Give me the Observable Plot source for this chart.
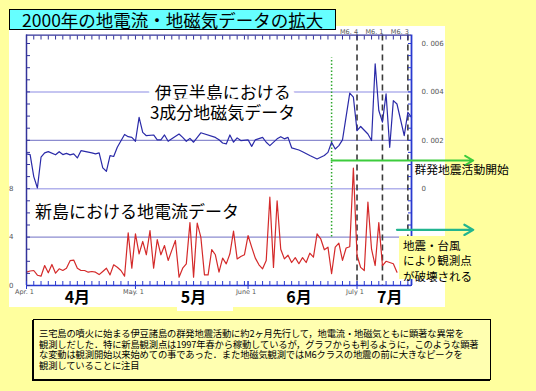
<!DOCTYPE html>
<html><head><meta charset="utf-8">
<script src="https://cdn.jsdelivr.net/npm/d3@7"></script>
<script src="https://cdn.jsdelivr.net/npm/@observablehq/plot@0.6"></script>
<style>
body{margin:0;width:536px;height:391px;background:#ffff9e;position:relative;overflow:hidden;font-family:"Noto Sans CJK JP",sans-serif;}
#panel{position:absolute;left:9px;top:26px;width:436px;height:281px;background:#fff;}
#m5bg{position:absolute;left:177px;top:293px;width:56px;height:18px;background:#fff;}
#chart{position:absolute;left:0;top:0;}
#chart svg{overflow:visible;}
#title{position:absolute;left:9px;top:9px;width:313px;height:19px;background:#66ffff;border:1px solid #000;font-size:17.5px;line-height:19px;padding-left:12px;color:#000;white-space:nowrap;}
#caption{position:absolute;left:33px;top:319px;background:#ffffb0;border:1px solid #000;box-shadow:-1px 1px 0 #000;padding:8px 0 0 5px;box-sizing:border-box;width:458px;height:61px;font-size:9.3px;line-height:10.5px;letter-spacing:-0.15px;color:#000;white-space:nowrap;}
#callout{position:absolute;background:#ffff9e;font-size:11.5px;line-height:15.5px;color:#000;white-space:nowrap;padding:2px 0 0 4px;box-sizing:border-box;}
</style></head>
<body>
<div id="panel"></div>
<div id="m5bg"></div>
<div id="chart"></div>
<div id="title">2000年の地電流・地磁気データの拡大</div>
<div id="callout">地震・台風<br>により観測点<br>が破壊される</div>
<div id="caption">三宅島の噴火に始まる伊豆諸島の群発地震活動に約2ヶ月先行して，地電流・地磁気ともに顕著な異常を<br>観測しだした．特に新島観測点は1997年春から稼動しているが，グラフからも判るように，このような顕著<br>な変動は観測開始以来始めての事であった．また地磁気観測ではM6クラスの地震の前に大きなピークを<br>観測していることに注目</div>
<script>
// ---- data ----
const startDay = "2000-04-01";
// 新島 地電流 (daily, from Apr 1)
const currentValues = [1.1,1.2,1.24,0.85,0.77,1.65,1.05,1.74,1.02,1.38,1.24,1.43,2.05,2.1,1.43,1.24,1.24,1.1,1.16,1.1,
  0.9,1.16,1.43,0.88,1.71,1.51,1.24,0.77,4.35,1.43,4.27,2.62,3.64,2.54,4.54,1.43,3.8,2.54,3.3,2.07,
  2.9,3.72,0.69,1.43,1.79,5.2,0.69,5.15,4.0,0.88,0.88,2.97,2.54,1.1,2.26,1.79,2.62,4.5,2.2,2.4,
  2.54,4.13,3.17,2.26,1.71,1.38,2.07,7.3,1.5,7.0,3.0,2.2,2.5,1.9,2.3,1.8,2.3,1.9,2.67,2.34,
  4.27,3.86,2.95,3.17,0.97,3.17,3.5,2.07,3.1,3.2,9.7,2.5,1.5,1.24,6.9,3.0,1.65,5.2,1.65,2.0,
  1.9,1.8,1.1];
// 伊豆半島 3成分地磁気 (day offset from Apr 1, value)
const magDays = [0,1,2,3,4,5,6,8,9,10,11,12,13,14,15,16,18,19,20,21,22,23,24,25,27,28,29,30,31,32,33,35,36,37,38,39,40,42,43,44,45,46,48,52,53,54,55,56,57,58,59,61,62,63,65,66,67,69,70,71,72,73,75,76,78,80,82,83,84,85,86,87,89,90,91,92,94,95,96,97,98,99,100,101,102,104,105,106];
const magValues = [0.00144,0.00141,0.0005,0.00003,0.0013,0.00148,0.00153,
  0.0014,0.00153,0.00141,0.00146,0.0014,0.00144,0.00127,0.00157,0.00154,
  0.00148,0.00144,0.00148,0.00086,0.00072,0.00137,0.00133,0.00171,
  0.00224,0.00215,0.00212,0.00196,0.00295,0.00233,0.00219,
  0.00222,0.00202,0.00202,0.00222,0.00196,0.00206,
  0.00226,0.00212,0.00196,0.00208,0.00192,
  0.00231,
  0.00212,0.00202,0.00189,0.00185,0.00222,0.00192,0.0021,0.00199,
  0.00202,0.00175,0.00202,
  0.00212,0.00192,0.00178,
  0.00206,0.00215,0.00206,0.00212,0.00169,
  0.0016,0.00153,
  0.00137,
  0.00123,
  0.00137,0.0015,0.00192,0.00164,0.00178,0.00202,
  0.00395,0.00378,0.0024,0.00257,
  0.00226,0.00199,0.00516,0.00323,0.00275,0.00392,0.00171,0.00364,0.0035,
  0.00219,0.00316,0.00295];
const quakeDates = ["2000-07-01","2000-07-08","2000-07-15"];
const quakeLabels = ["M6. 4","M6. 1","M6. 3"];
const swarmStartDate = "2000-06-24";
const arrowEndDate = "2000-08-02";
const monthTickDates = ["2000-04-01","2000-05-01","2000-06-01","2000-07-01"];
const monthTickLabels = ["Apr. 1","May. 1","June 1","July 1"];
const monthLabelDates = ["2000-04-15","2000-05-17","2000-06-15","2000-07-10"];
const monthLabels = ["4月","5月","6月","7月"];
const currentTickLabels = [0,4,8];
const magTickValues = [0,0.002,0.004,0.006];
const magTickLabels = ["0","0. 002","0. 004","0. 006"];
const currentGridDark = [4], currentGridLight = [8];
const magGridDark = [0.002], magGridLight = [0.004];

(function () {
// ---- helpers ----
const parseDate = d3.utcParse("%Y-%m-%d");
const t0 = parseDate(startDay);
const dayOf = n => new Date(t0.getTime() + n * 864e5);
const magStep = 0.0005, magZero = 8;           // magnetic axis offset on the shared scale
const toShared = m => magZero + m / magStep;

const currentData = currentValues.map((v, i) => ({date: dayOf(i), value: v}));
const magData = magDays.map((d, i) => ({date: dayOf(d), value: magValues[i]}));
const quakes = quakeDates.map((d, i) => ({date: parseDate(d), label: quakeLabels[i]}));
const monthTicks = monthTickDates.map((d, i) => ({date: parseDate(d), label: monthTickLabels[i]}));
const monthNames = monthLabelDates.map((d, i) => ({date: parseDate(d), label: monthLabels[i]}));
const magTicks = magTickValues.map((v, i) => ({value: v, label: magTickLabels[i]}));
const swarm = parseDate(swarmStartDate);
const arrowEnd = parseDate(arrowEndDate);

const xEnd = dayOf(106);
const yTop = 20.7;
const twoDayTicks = d3.utcDay.every(2).range(t0, dayOf(106.5));
const unitTicks = d3.range(0, 21);
const jp = '"Noto Sans CJK JP", sans-serif';
const small = '"DejaVu Sans", sans-serif';
const navy = "#33339a", blue = "#2a3ad0";

const chart = Plot.plot({
  width: 536, height: 310,
  marginLeft: 26, marginRight: 125, marginTop: 285 - 12.1 * yTop, marginBottom: 25,
  x: {type: "utc", domain: [t0, xEnd]},
  y: {domain: [0, yTop]},
  style: {background: "transparent", overflow: "visible"},
  marks: [
    Plot.ruleY(currentGridDark, {stroke: "#7070c4", strokeWidth: 1}),
    Plot.ruleY(currentGridLight, {stroke: "#b2b2ec", strokeWidth: 1.5}),
    Plot.ruleY(magGridDark, {y: toShared, stroke: "#7070c4", strokeWidth: 1}),
    Plot.ruleY(magGridLight, {y: toShared, stroke: "#b2b2ec", strokeWidth: 1.5}),
    Plot.ruleX(quakes, {x: "date", stroke: "#3a3a3a", strokeWidth: 1.6, strokeDasharray: "6,4"}),
    Plot.ruleX([swarm], {y1: 4, y2: 18.8, stroke: "#2ea82e", strokeWidth: 1.5, strokeDasharray: "1.5,2"}),
    Plot.line(currentData, {x: "date", y: "value", stroke: "#d42a2a", strokeWidth: 1.2}),
    Plot.line(magData, {x: "date", y: d => toShared(d.value), stroke: "#2a2aa8", strokeWidth: 1.2}),
    // axes frame lines
    Plot.ruleX([t0], {stroke: navy, strokeWidth: 1.5}),
    Plot.ruleX([xEnd], {stroke: blue, strokeWidth: 1.8}),
    Plot.ruleY([0], {stroke: blue, strokeWidth: 1.5}),
    Plot.ruleY([yTop], {stroke: navy, strokeWidth: 1.2}),
    Plot.axisY(unitTicks, {anchor: "left", tickSize: 4, dx: 4, tickFormat: () => "", label: null, stroke: navy}),
    Plot.axisY(unitTicks, {anchor: "right", tickSize: 4, dx: -4, tickFormat: () => "", label: null, stroke: blue}),
    Plot.axisX(twoDayTicks, {anchor: "bottom", tickSize: 4, dy: -4, tickFormat: () => "", label: null, stroke: blue}),
    Plot.axisX(monthTicks.map(d => d.date), {anchor: "bottom", tickSize: 8, dy: -4, tickFormat: () => "", label: null, stroke: blue}),
    Plot.axisX(twoDayTicks, {anchor: "top", tickSize: 4, dy: 4, tickFormat: () => "", label: null, stroke: navy}),
    // tick labels
    Plot.text(currentTickLabels, {y: d => d, text: d => String(d), frameAnchor: "left", textAnchor: "end", dx: -13, fontSize: 7, fill: "#555", fontFamily: small}),
    Plot.text(magTicks, {y: d => toShared(d.value), text: "label", frameAnchor: "right", textAnchor: "start", dx: 10, fontSize: 7, fill: "#555", fontFamily: small}),
    Plot.text(monthTicks, {x: "date", text: "label", frameAnchor: "bottom", dy: 8, fontSize: 6.5, fill: "#555", fontFamily: small, dx: -2}),
    Plot.text(quakes, {x: "date", text: "label", frameAnchor: "top", dy: -6, textAnchor: "end", dx: 1, fontSize: 6.5, fill: "#555", fontFamily: small}),
    Plot.text(monthNames, {x: "date", text: "label", frameAnchor: "bottom", dy: 17, fontSize: 16, fontWeight: "bold", fill: "#000", fontFamily: jp}),
    // annotations
    Plot.text([{date: dayOf(54), y: 15.15, label: "伊豆半島における\n3成分地磁気データ"}], {x: "date", y: "y", text: "label", fontSize: 17, lineHeight: 1.18, fill: "#000", stroke: "#fff", strokeWidth: 12, paintOrder: "stroke", fontFamily: jp}),
    Plot.text([{date: dayOf(30.4), y: 6.05, label: "新島における地電流データ"}], {x: "date", y: "y", text: "label", fontSize: 17, fill: "#000", fontFamily: jp}),
    Plot.arrow([{x1: swarm, x2: arrowEnd, y: 10.33}], {x1: "x1", x2: "x2", y1: "y", y2: "y", stroke: "#3ccc3c", strokeWidth: 2, headLength: 7}),
    Plot.text([{date: dayOf(106.8), y: 9.5, label: "群発地震活動開始"}], {x: "date", y: "y", text: "label", textAnchor: "start", fontSize: 11.8, fill: "#000", fontFamily: jp}),
    Plot.arrow([{x1: dayOf(102), x2: arrowEnd, y: 4.6}], {x1: "x1", x2: "x2", y1: "y", y2: "y", stroke: "#22b58f", strokeWidth: 2.2, headLength: 7})
  ]
});
document.getElementById("chart").append(chart);

// position callout box from the chart's scales
const xs = chart.scale("x"), ys = chart.scale("y");
const co = document.getElementById("callout");
const boxLeft = xs.apply(dayOf(102.7)), boxTop = ys.apply(4.05);
co.style.left = boxLeft + "px";
co.style.top = boxTop + "px";
co.style.width = (xs.apply(arrowEnd) - boxLeft) + "px";
co.style.height = (ys.apply(0.5) - boxTop) + "px";
})();
</script>
</body></html>
